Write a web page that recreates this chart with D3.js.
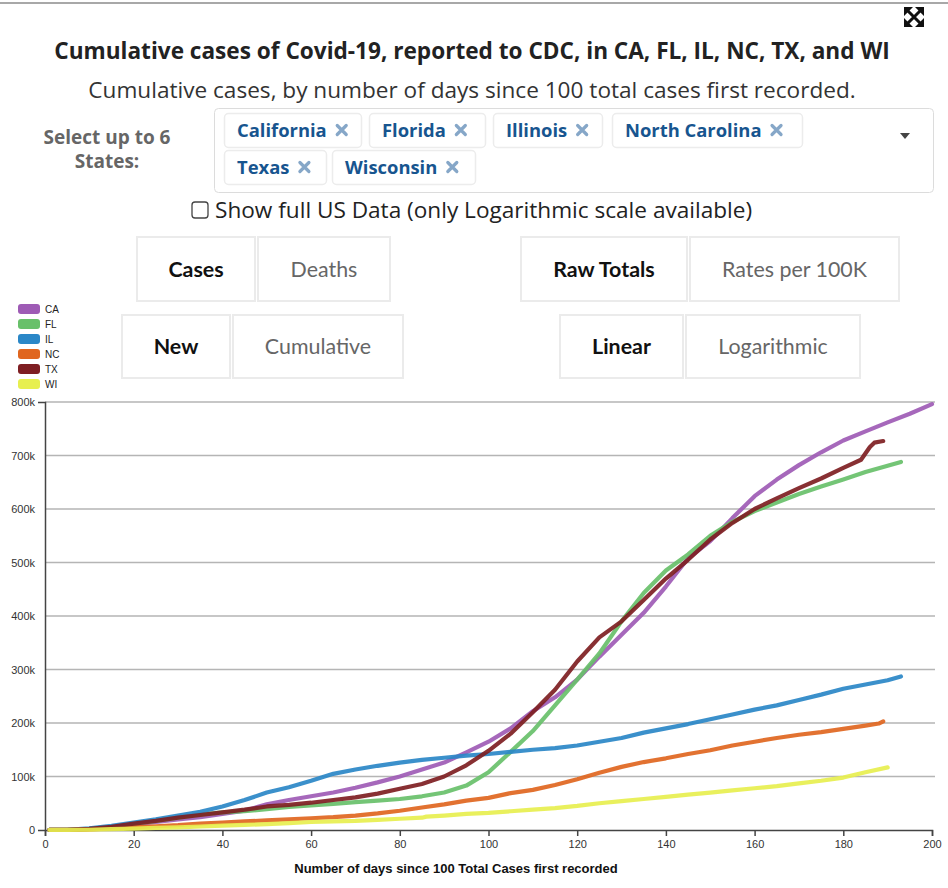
<!DOCTYPE html>
<html><head><meta charset="utf-8">
<script src="https://cdn.jsdelivr.net/npm/d3@7"></script>
<style>
html,body{margin:0;padding:0;background:#fff;}
svg{display:block;}
</style></head><body>
<svg id="c" width="948" height="888"></svg>
<script>
// ---------- data (cumulative cases, thousands) ----------
const states = ["CA","FL","IL","NC","TX","WI"];
const stateNames = ["California","Florida","Illinois","North Carolina","Texas","Wisconsin"];
const colors = ["#9e5bb5","#68c06a","#2a87c7","#e0661f","#7e1e22","#e7ef4f"];
const dayGrid = [1,5,10,15,20,25,30,35,40,45,50,55,60,65,70,75,80,85,90,95,100,105,110,115,120,125,130,135,140,145,150,155,160,165,170,175,180,185];

const caDays = dayGrid.concat([190,195,200]);
const caCases = [0.1,0.5,2,5,10,15,20,24,30,36,48,56,63,70,79,89,100,113,126,145,165,190,222,248,281,324,365,406,455,508,540,583,624,655,682,706,728,745,762,778,796];

const flDays = dayGrid.concat([190,193]);
const flCases = [0.1,0.5,2,6,12,17,23,29,33,35,39,43,46,49,52,55,58,63,70,83,108,146,185,233,281,330,390,443,485,515,550,576,596,612,628,642,655,669,681,688];

const ilDays = dayGrid.concat([190,193]);
const ilCases = [0.1,0.5,3,8,14,20,27,34,44,56,70,80,92,105,113,120,126,131,135,139,142,146,150,153,158,165,172,182,190,198,207,216,225,233,243,253,264,272,280,287];

const ncDays = dayGrid.concat([188,189]);
const ncCases = [0.1,0.2,1,3,5,7,9,12,14,16,18,20,22,24,27,31,36,42,48,55,60,69,75,84,95,107,118,127,134,142,149,158,165,172,178,183,189,195,199,203];

const txDays = [1,5,10,15,20,25,30,35,40,45,50,55,60,65,70,75,80,85,90,95,100,105,110,115,120,125,130,135,140,145,150,155,160,165,170,175,180,184,186,187,189];
const txCases = [0.1,0.5,2,6,12,17,23,28,33,38,44,47,51,56,61,68,77,86,100,121,148,180,220,262,315,360,390,430,470,505,543,574,600,620,639,657,677,692,716,724,727];

const wiDays = [1,5,10,15,20,25,30,35,40,45,50,55,60,65,70,75,80,85,86,90,95,100,105,110,115,120,125,130,135,140,145,150,155,160,165,170,175,180,185,190];
const wiCases = [0.1,0.1,0.5,1.5,2.5,4,5,6.5,8,9.5,11,13,15,16,17,19,21,23,25,27,30,32,35,38,41,45,50,54,58,62,66,70,74,78,82,87,92,98,108,117];

const xTicks = [0,20,40,60,80,100,120,140,160,180,200];
const yTicks = [0,100000,200000,300000,400000,500000,600000,700000,800000];

const titleText = "Cumulative cases of Covid-19, reported to CDC, in CA, FL, IL, NC, TX, and WI";
const subtitleText = "Cumulative cases, by number of days since 100 total cases first recorded.";
const xLabel = "Number of days since 100 Total Cases first recorded";

const seriesDays = [caDays, flDays, ilDays, ncDays, txDays, wiDays];
const seriesCases = [caCases, flCases, ilCases, ncCases, txCases, wiCases];

// ---------- drawing ----------
const svg = d3.select("#c");
const OS = "'Open Sans', sans-serif";
const LATO = "Lato, sans-serif";
const SANS = "'Liberation Sans', Arial, sans-serif";

// top border
svg.append("rect").attr("x",0).attr("y",2).attr("width",948).attr("height",2).attr("fill","#a8a8a8");

// expand icon
const ic = svg.append("g").attr("fill","#111").attr("stroke","#111");
ic.append("path").attr("d","M907,10L921,24M921,10L907,24").attr("stroke-width",3).attr("fill","none");
ic.append("path").attr("stroke","none").attr("d",
 "M904,7L913,7L904,16Z M924,7L915,7L924,16Z M904,27L913,27L904,18Z M924,27L915,27L924,18Z");

// titles
svg.append("text").attr("x",472).attr("y",59).attr("text-anchor","middle")
  .style("font-family",OS).style("font-weight","700").style("font-size","22.6px").attr("fill","#222").text(titleText);
svg.append("text").attr("x",472).attr("y",98).attr("text-anchor","middle")
  .style("font-family",OS).style("font-size","22.6px").attr("fill","#333").text(subtitleText);

// select label
const sl = svg.append("g").style("font-family",OS).style("font-weight","700").style("font-size","19px").attr("fill","#666").attr("text-anchor","middle");
sl.append("text").attr("x",107).attr("y",144).text("Select up to 6");
sl.append("text").attr("x",107).attr("y",168).text("States:");

// select box
svg.append("rect").attr("x",214.5).attr("y",108.5).attr("width",719).attr("height",84).attr("rx",4)
  .attr("fill","#fff").attr("stroke","#dcdcdc");
const tagBoxes = [[224,113,137],[369,113,116],[493,113,109],[612,113,190],[224,150,102],[332,150,143]];
const tagG = svg.append("g");
stateNames.forEach((n,i)=>{
  const [x,y,w] = tagBoxes[i];
  tagG.append("rect").attr("x",x+0.5).attr("y",y+0.5).attr("width",w).attr("height",34).attr("rx",4)
    .attr("fill","#fff").attr("stroke","#ececec").attr("stroke-width",1.5);
  const t = tagG.append("text").attr("x",x+13).attr("y",y+24).style("font-family",OS).style("font-weight","700")
    .style("font-size","18.4px").attr("fill","#17558f").text(n);
  const tw = t.node().getComputedTextLength();
  const cx = x + 13 + tw + 15, cy = y + 17;
  tagG.append("path").attr("d",`M${cx-4.5},${cy-4.5}L${cx+4.5},${cy+4.5}M${cx+4.5},${cy-4.5}L${cx-4.5},${cy+4.5}`)
    .attr("stroke","#86a7c8").attr("stroke-width",3.2).attr("stroke-linecap","round");
});
svg.append("path").attr("d","M900,133L910,133L905,139Z").attr("fill","#444");

// checkbox
svg.append("rect").attr("x",192).attr("y",202).attr("width",16).attr("height",16).attr("rx",3)
  .attr("fill","#fff").attr("stroke","#444").attr("stroke-width",1.3);
svg.append("text").attr("x",215).attr("y",218).style("font-family",OS).style("font-size","22.6px").attr("fill","#222")
  .text("Show full US Data (only Logarithmic scale available)");

// toggle buttons
const buttons = [
  {x:136,y:236,w:120,h:66,t:"Cases",on:true},{x:257,y:236,w:134,h:66,t:"Deaths",on:false},
  {x:520,y:236,w:168,h:66,t:"Raw Totals",on:true},{x:689,y:236,w:211,h:66,t:"Rates per 100K",on:false},
  {x:121,y:314,w:110,h:65,t:"New",on:true},{x:232,y:314,w:172,h:65,t:"Cumulative",on:false},
  {x:559,y:314,w:125,h:65,t:"Linear",on:true},{x:685,y:314,w:176,h:65,t:"Logarithmic",on:false}
];
const bg = svg.append("g");
buttons.forEach(b=>{
  bg.append("rect").attr("x",b.x+1).attr("y",b.y+1).attr("width",b.w-2).attr("height",b.h-2)
    .attr("fill","#fff").attr("stroke","#ebebeb").attr("stroke-width",2);
  bg.append("text").attr("x",b.x+b.w/2).attr("y",b.y+b.h/2+7.5).attr("text-anchor","middle")
    .style("font-family",LATO).style("font-size","21.4px").style("font-weight",b.on?"700":"400")
    .attr("fill",b.on?"#111":"#666").text(b.t);
});

// legend
const lg = svg.append("g");
states.forEach((s,i)=>{
  lg.append("rect").attr("x",18).attr("y",304+i*15).attr("width",22).attr("height",10).attr("rx",3).attr("fill",colors[i]);
  lg.append("text").attr("x",45).attr("y",313+i*15).style("font-family",SANS).style("font-size","10px").attr("fill","#222").text(s);
});

// chart
const x = d3.scaleLinear().domain([0,200]).range([45,932]);
const y = d3.scaleLinear().domain([0,800000]).range([830,402]);

const grid = svg.append("g");
yTicks.filter(d=>d>0).forEach(d=>{
  grid.append("line").attr("x1",45).attr("x2",935).attr("y1",y(d)).attr("y2",y(d))
    .attr("stroke","#b5b5b5").attr("stroke-width",1.5);
});

const yAxis = svg.append("g").attr("transform","translate(45,0)")
  .call(d3.axisLeft(y).tickValues(yTicks).tickSize(0).tickSizeOuter(7).tickPadding(10).tickFormat(d3.format("~s")));
const xAxis = svg.append("g").attr("transform","translate(0,830)")
  .call(d3.axisBottom(x).tickValues(xTicks).tickSize(6).tickSizeOuter(6).tickPadding(4));
[yAxis,xAxis].forEach(a=>{
  a.selectAll("path,line").attr("stroke","#444").attr("stroke-width",1.5);
  a.selectAll("text").style("font-family",SANS).style("font-size","11px").attr("fill","#333");
});

svg.append("text").attr("x",456).attr("y",873).attr("text-anchor","middle")
  .style("font-family",SANS).style("font-weight","700").style("font-size","13px").attr("fill","#111").text(xLabel);

const line = d3.line().x(d=>x(d[0])).y(d=>y(d[1]*1000));
const lines = svg.append("g");
states.forEach((s,i)=>{
  const pts = seriesDays[i].map((d,j)=>[d, seriesCases[i][j]]);
  lines.append("path").datum(pts).attr("d",line).attr("fill","none")
    .attr("stroke",colors[i]).attr("stroke-width",4.2).attr("stroke-opacity",0.92)
    .attr("stroke-linejoin","round").attr("stroke-linecap","round");
});
</script></body></html>
